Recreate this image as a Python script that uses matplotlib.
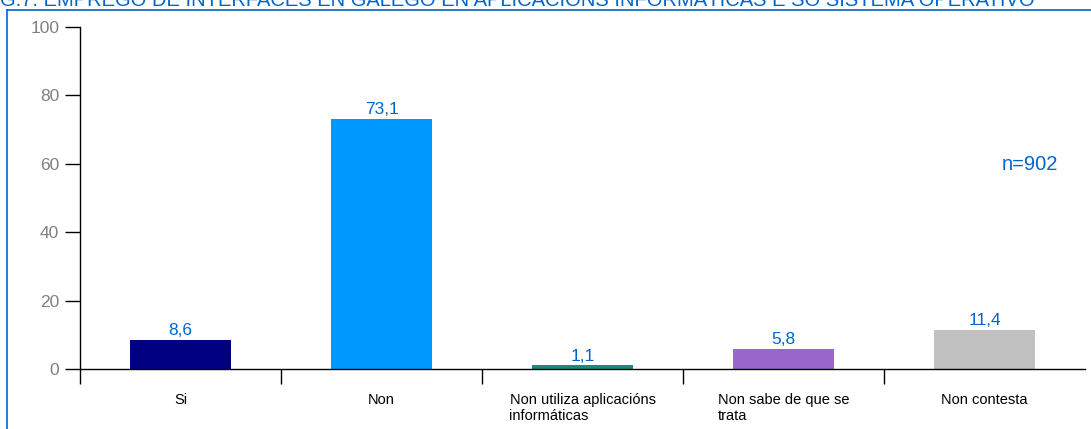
import matplotlib
matplotlib.use('Agg')
import matplotlib.pyplot as plt
from matplotlib.lines import Line2D

plt.rcParams['font.family'] = ['Liberation Sans', 'DejaVu Sans']

# Datos
categories = ['Si', 'Non', 'Non utiliza aplicacións\ninformáticas',
              'Non sabe de que se\ntrata', 'Non contesta']
values = [8.6, 73.1, 1.1, 5.8, 11.4]
bar_colors = ['#000080', '#0099FF', '#1A8A80', '#9966CC', '#C0C0C0']
title = 'G.7. EMPREGO DE INTERFACES EN GALEGO EN APLICACIÓNS INFORMÁTICAS E SO SISTEMA OPERATIVO'
sample_note = 'n=902'
y_ticks = [0, 20, 40, 60, 80, 100]

blue = '#0066CC'

fig = plt.figure(figsize=(10.91, 4.29), dpi=100)
ax = fig.add_axes([80 / 1091, 1 - 369 / 429, 1005 / 1091, 342 / 429])

x = list(range(len(categories)))
ax.bar(x, values, width=0.5, color=bar_colors, zorder=2)

for xi, v in zip(x, values):
    ax.text(xi, v + 0.5, f'{v:.1f}'.replace('.', ','), ha='center', va='bottom',
            color=blue, fontsize=12.5)

ax.set_xlim(-0.5, len(categories) - 0.5)
ax.set_ylim(0, 100)
ax.set_yticks(y_ticks)
ax.tick_params(axis='y', labelcolor='#808080', labelsize=12.5, length=11,
               width=1, color='black', pad=4)

ax.set_xticks(x)
ax.set_xticklabels(categories, fontsize=10.5, ha='center', multialignment='left')
ax.tick_params(axis='x', length=0, pad=17)
ax.set_xticks([i - 0.5 for i in range(len(categories))], minor=True)
ax.tick_params(axis='x', which='minor', length=11, width=1, color='black')
ax.xaxis.get_minor_ticks()[-1].tick1line.set_color('#808080')

for s in ['top', 'right']:
    ax.spines[s].set_visible(False)
for s in ['left', 'bottom']:
    ax.spines[s].set_color('black')
    ax.spines[s].set_linewidth(1)

fig.text(1030 / 1091, 1 - 164 / 429, sample_note, ha='center', va='center',
         color=blue, fontsize=14.5)

# Marco azul
fig.add_artist(Line2D([7 / 1091, 1], [1 - 10 / 429, 1 - 10 / 429],
                      transform=fig.transFigure, color=blue, lw=1.2))
fig.add_artist(Line2D([7 / 1091, 7 / 1091], [0, 1 - 10 / 429],
                      transform=fig.transFigure, color=blue, lw=1.2))

fig.text(0.0, 1 - 1 / 429, title, ha='left', va='center', color=blue, fontsize=14.5)

fig.savefig('out.png', dpi=100)
